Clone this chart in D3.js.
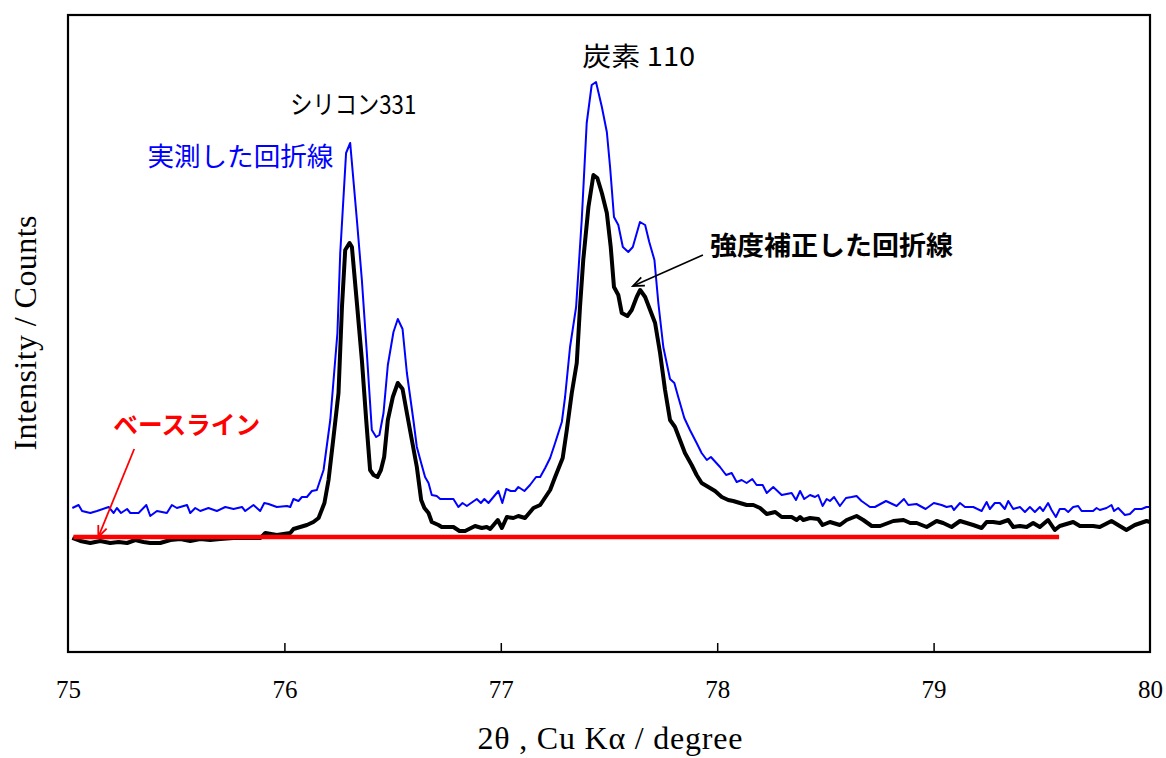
<!DOCTYPE html>
<html>
<head>
<meta charset="utf-8">
<script src="https://cdn.jsdelivr.net/npm/d3@7"></script>
<style>
  body { margin: 0; background: #fff; }
  .tick text { font-family: "Liberation Serif", "Times New Roman", serif; font-size: 25px; fill: #000; }
  .jp { font-family: "Noto Sans CJK JP", "Noto Sans", sans-serif; }
</style>
</head>
<body>
<div id="chart"></div>
<script>
// measured pattern (blue)
var blueTheta = [75.020,75.049,75.065,75.103,75.134,75.188,75.211,75.226,75.245,75.273,
  75.288,75.326,75.362,75.380,75.411,75.457,75.480,75.503,75.550,75.565,
  75.588,75.611,75.649,75.688,75.727,75.765,75.804,75.819,75.857,75.888,
  75.907,75.927,75.965,76.012,76.027,76.042,76.065,76.081,76.104,76.127,
  76.150,76.181,76.212,76.245,76.258,76.285,76.304,76.335,76.358,76.381,
  76.404,76.424,76.439,76.458,76.478,76.504,76.524,76.546,76.566,76.596,
  76.612,76.632,76.650,76.666,76.681,76.704,76.720,76.781,76.804,76.823,
  76.843,76.889,76.908,76.924,76.943,76.966,76.989,77.007,77.025,77.046,
  77.066,77.081,77.109,77.135,77.163,77.182,77.205,77.228,77.251,77.282,
  77.297,77.320,77.348,77.374,77.397,77.420,77.440,77.467,77.490,77.505,
  77.523,77.543,77.564,77.589,77.610,77.643,77.667,77.686,77.710,77.728,
  77.751,77.782,77.802,77.820,77.848,77.874,77.905,77.928,77.952,77.971,
  78.013,78.041,78.067,78.090,78.113,78.136,78.162,78.182,78.210,78.229,
  78.259,78.298,78.344,78.364,78.383,78.402,78.429,78.452,78.467,78.487,
  78.506,78.521,78.540,78.567,78.595,78.621,78.644,78.667,78.706,78.729,
  78.780,78.829,78.863,78.883,78.921,78.963,79.001,79.037,79.060,79.083,
  79.094,79.122,79.145,79.183,79.222,79.245,79.260,79.283,79.306,79.329,
  79.345,79.368,79.399,79.422,79.445,79.468,79.491,79.506,79.529,79.545,
  79.565,79.583,79.606,79.622,79.645,79.668,79.684,79.737,79.753,79.768,
  79.799,79.822,79.834,79.853,79.884,79.907,79.930,79.961,79.984,80.000];
var blueCounts = [144,147,141,139,141,145,139,144,139,143,
  139,139,147,136,141,139,147,144,147,139,
  144,141,144,141,145,143,145,141,147,141,
  149,148,145,146,145,153,151,155,155,161,
  162,182,232,319,399,499,509,432,372,299,
  222,215,217,239,287,320,333,323,279,232,
  205,189,175,169,157,156,153,153,145,149,
  146,153,149,153,149,155,161,149,163,161,
  161,165,161,167,175,175,184,194,209,230,
  255,305,345,432,529,567,570,545,520,485,
  435,427,405,400,405,430,427,410,392,349,
  305,273,269,255,234,222,209,199,192,195,
  185,177,179,170,172,169,173,167,167,159,
  165,157,159,152,161,153,157,155,157,146,
  153,151,155,146,154,155,156,151,145,145,
  151,146,153,147,148,143,149,147,145,146,
  142,149,145,145,141,150,143,149,149,143,
  151,143,145,140,145,140,145,141,149,142,
  135,143,143,140,145,146,141,141,144,142,
  144,147,141,144,137,138,143,143,145,145];

// intensity corrected pattern (black)
var blackTheta = [75.020,75.057,75.103,75.149,75.195,75.234,75.273,75.311,75.349,75.380,
  75.426,75.473,75.519,75.565,75.611,75.657,75.703,75.765,75.827,75.888,
  75.903,75.912,75.965,76.027,76.042,76.073,76.104,76.134,76.158,76.185,
  76.204,76.227,76.250,76.266,76.281,76.301,76.312,76.335,76.358,76.378,
  76.396,76.412,76.430,76.446,76.461,76.478,76.501,76.524,76.546,76.566,
  76.589,76.612,76.632,76.647,76.666,76.681,76.712,76.727,76.781,76.809,
  76.835,76.881,76.912,76.935,76.951,76.986,77.005,77.028,77.058,77.081,
  77.112,77.151,77.182,77.228,77.251,77.286,77.305,77.328,77.351,77.366,
  77.381,77.405,77.428,77.446,77.467,77.490,77.508,77.523,77.543,77.559,
  77.585,77.605,77.628,77.644,77.667,77.690,77.713,77.736,77.759,77.782,
  77.805,77.828,77.851,77.882,77.905,77.928,77.959,77.990,78.021,78.051,
  78.074,78.105,78.136,78.167,78.198,78.229,78.268,78.298,78.344,78.367,
  78.383,78.398,78.429,78.467,78.487,78.521,78.567,78.598,78.644,78.675,
  78.714,78.753,78.814,78.861,78.892,78.922,78.968,79.014,79.044,79.083,
  79.122,79.183,79.222,79.245,79.275,79.306,79.345,79.368,79.399,79.430,
  79.460,79.491,79.529,79.560,79.583,79.645,79.676,79.737,79.768,79.822,
  79.860,79.891,79.930,79.984,80.000];
var blackCounts = [114,111,109,111,109,110,109,112,110,109,
  109,112,113,111,113,112,113,114,114,114,
  117,119,117,119,123,125,127,130,134,149,
  172,215,259,345,402,409,405,349,292,232,
  182,177,175,182,195,232,255,269,263,239,
  212,185,152,144,139,130,127,125,125,121,
  121,126,124,125,123,132,124,135,134,136,
  134,144,147,162,175,194,222,259,289,345,
  392,445,477,474,459,439,405,365,357,339,
  336,342,355,362,355,342,329,299,262,232,
  225,212,199,187,177,169,165,161,155,152,
  151,149,147,147,144,138,140,135,135,132,
  135,132,134,133,127,130,127,132,136,132,
  126,126,131,132,129,129,125,131,129,125,
  131,127,124,130,130,129,132,125,126,125,
  129,125,132,122,126,130,126,126,125,131,
  126,122,127,131,130];

// baseline
var baselineTheta = [75.025, 79.58];
var baselineCounts = [115, 115];

var xTicks = [75, 76, 77, 78, 79, 80];

var width = 1166, height = 758;
var margin = {left: 68, right: 16, top: 15, bottom: 106};
var w = width - margin.left - margin.right,
    h = height - margin.top - margin.bottom;

var svg = d3.select("#chart").append("svg")
    .attr("width", width)
    .attr("height", height);

var chart = svg.append("g")
    .attr("transform", "translate(" + margin.left + "," + margin.top + ")");

var x = d3.scaleLinear().domain([75, 80]).range([0, w]);
var y = d3.scaleLinear().domain([0, 637]).range([h, 0]);

function pts(xs, ys) {
    return xs.map(function(d, i) { return [d, ys[i]]; });
}

var line = d3.line()
    .x(function(d) { return x(d[0]); })
    .y(function(d) { return y(d[1]); });

// x axis, ticks inside
var xAxis = chart.append("g")
    .attr("class", "x axis")
    .attr("transform", "translate(0," + h + ")")
    .call(d3.axisBottom(x).tickValues(xTicks).tickSizeInner(-9).tickSizeOuter(0).tickPadding(28)
        .tickFormat(d3.format("d")));
xAxis.select(".domain").remove();
xAxis.selectAll(".tick line").attr("stroke", "#000").attr("stroke-width", 1.5)
    .filter(function(d) { return d === 75 || d === 80; }).remove();

chart.append("path")
    .datum(pts(blueTheta, blueCounts))
    .attr("fill", "none")
    .attr("stroke", "#0000ff")
    .attr("stroke-width", 2)
    .attr("stroke-linejoin", "round")
    .attr("d", line);

chart.append("path")
    .datum(pts(blackTheta, blackCounts))
    .attr("fill", "none")
    .attr("stroke", "#000")
    .attr("stroke-width", 4)
    .attr("stroke-linejoin", "round")
    .attr("d", line);

chart.append("path")
    .datum(pts(baselineTheta, baselineCounts))
    .attr("fill", "none")
    .attr("stroke", "#ff0000")
    .attr("stroke-width", 4.5)
    .attr("d", line);

// frame
chart.append("rect")
    .attr("width", w)
    .attr("height", h)
    .attr("fill", "none")
    .attr("stroke", "#000")
    .attr("stroke-width", 2.2);

// arrow markers
var defs = svg.append("defs");
[["arrBlack", "#000"], ["arrRed", "#ff0000"]].forEach(function(m) {
    defs.append("marker")
        .attr("id", m[0])
        .attr("viewBox", "-12 -6 14 12")
        .attr("refX", 0).attr("refY", 0)
        .attr("markerWidth", 14).attr("markerHeight", 12)
        .attr("markerUnits", "userSpaceOnUse")
        .attr("orient", "auto")
        .append("path")
        .attr("d", "M-11,-4.5 L0,0 L-11,4.5")
        .attr("fill", "none")
        .attr("stroke", m[1])
        .attr("stroke-width", 1.8);
});

chart.append("line")
    .attr("x1", x(77.934)).attr("y1", y(397))
    .attr("x2", x(77.611)).attr("y2", y(366))
    .attr("stroke", "#000").attr("stroke-width", 1.6)
    .attr("marker-end", "url(#arrBlack)");

chart.append("line")
    .attr("x1", x(75.306)).attr("y1", y(203))
    .attr("x2", x(75.140)).attr("y2", y(115))
    .attr("stroke", "#ff0000").attr("stroke-width", 1.8)
    .attr("marker-end", "url(#arrRed)");

// labels
var labels = [
    {t: "シリコン331", x: 76.027, y: 538, len: 126, size: 26, color: "#000", weight: "normal"},
    {t: "実測した回折線", x: 75.367, y: 486, len: 186, size: 26, color: "#0000ff", weight: "normal"},
    {t: "炭素 110", x: 77.376, y: 586, len: 113, size: 26, color: "#000", weight: "normal"},
    {t: "強度補正した回折線", x: 77.967, y: 397, len: 243, size: 26, color: "#000", weight: "bold"},
    {t: "ベースライン", x: 75.209, y: 218, len: 147, size: 25, color: "#ff0000", weight: "bold"}
];

chart.selectAll(".lbl")
    .data(labels)
    .enter().append("text")
    .attr("class", "lbl jp")
    .attr("x", function(d) { return x(d.x); })
    .attr("y", function(d) { return y(d.y); })
    .attr("textLength", function(d) { return d.len; })
    .attr("lengthAdjust", "spacingAndGlyphs")
    .style("font-size", function(d) { return d.size + "px"; })
    .style("font-weight", function(d) { return d.weight; })
    .style("fill", function(d) { return d.color; })
    .text(function(d) { return d.t; });

// axis titles
svg.append("text")
    .attr("x", 610)
    .attr("y", 749)
    .attr("text-anchor", "middle")
    .attr("textLength", 265)
    .style("font-family", "'Liberation Serif', 'Times New Roman', serif")
    .style("font-size", "32px")
    .text("2θ , Cu Kα / degree");

svg.append("text")
    .attr("transform", "translate(36,333) rotate(-90)")
    .attr("text-anchor", "middle")
    .attr("textLength", 235)
    .style("font-family", "'Liberation Serif', 'Times New Roman', serif")
    .style("font-size", "32px")
    .text("Intensity / Counts");
</script>
</body>
</html>
